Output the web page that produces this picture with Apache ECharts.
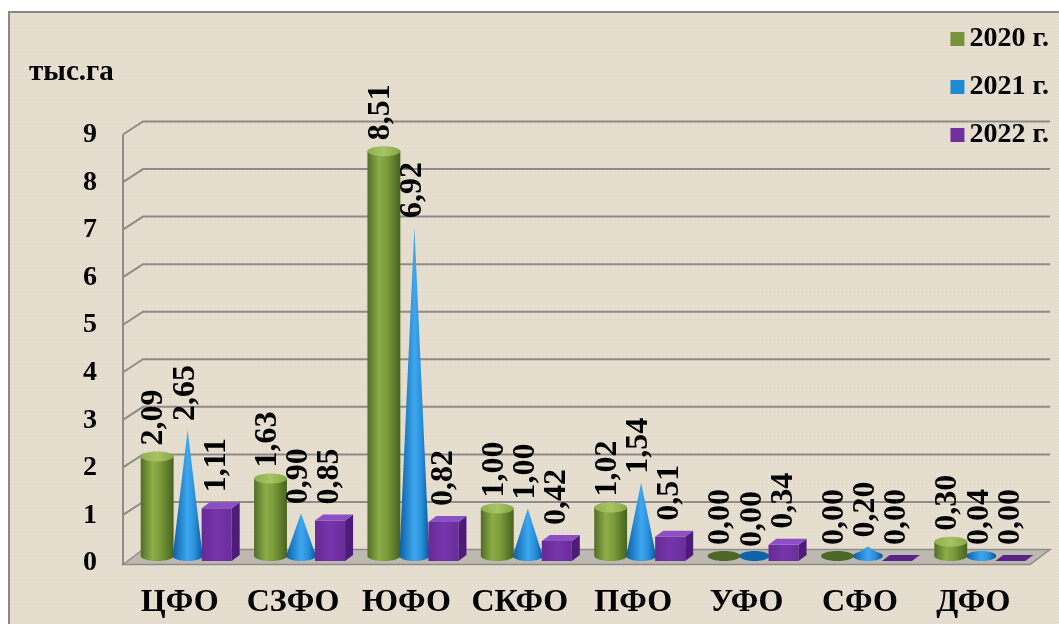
<!DOCTYPE html>
<html>
<head>
<meta charset="utf-8">
<script src="https://cdn.jsdelivr.net/npm/echarts@6/dist/echarts.min.js"></script>
<style>
  html, body { margin: 0; padding: 0; background: #fff; }
  #chart {
    position: absolute;
    left: 8px;
    top: 11px;
    width: 1049px;
    height: 611px;
    border-left: 2px solid #8a8884;
    border-top: 2px solid #8a8884;
    background-color: #e5ddce;
    background-image:
      repeating-linear-gradient(0deg, rgba(255,255,255,0.10) 0 1px, transparent 1px 3px),
      repeating-linear-gradient(90deg, rgba(120,100,70,0.035) 0 1px, transparent 1px 4px);
  }
</style>
</head>
<body>
<div id="chart"></div>
<script>
const categories = ['ЦФО', 'СЗФО', 'ЮФО', 'СКФО', 'ПФО', 'УФО', 'СФО', 'ДФО']
const years = ['2020 г.', '2021 г.', '2022 г.']
const values2020 = [2.09, 1.63, 8.51, 1.00, 1.02, 0.00, 0.00, 0.30]
const values2021 = [2.65, 0.90, 6.92, 1.00, 1.54, 0.00, 0.20, 0.04]
const values2022 = [1.11, 0.85, 0.82, 0.42, 0.51, 0.34, 0.00, 0.00]
const yTicks = [0, 1, 2, 3, 4, 5, 6, 7, 8, 9]

const serif = '"Liberation Serif", "Times New Roman", serif'
const DX = 10
const DY = 6.5

const chart = echarts.init(document.getElementById('chart'))

function fmt(v) {
  return v.toFixed(2).replace('.', ',')
}

function label(x, y, v) {
  return {
    type: 'text',
    x: x,
    y: y,
    rotation: Math.PI / 2,
    style: {
      text: fmt(v),
      fill: '#000',
      fontSize: 32,
      fontWeight: 'bold',
      fontFamily: serif,
      align: 'left',
      verticalAlign: 'middle'
    },
    z2: 10
  }
}

function hGrad(stops) {
  return new echarts.graphic.LinearGradient(0, 0, 1, 0, stops.map(c => ({ offset: c[0], color: c[1] })))
}

// walls, gridlines and floor
function renderFrame(params, api) {
  const cs = params.coordSys
  const v = api.value(1)
  const y = api.coord([0, v])[1]
  const right = cs.x + cs.width
  const children = []
  if (v === 0) {
    const yTop = api.coord([0, yTicks[yTicks.length - 1]])[1]
    children.push({
      type: 'polygon',
      shape: { points: [[cs.x - DX, y + DY + 2], [cs.x + DX, y - DY], [right + DX, y - DY], [right - DX, y + DY + 2]] },
      style: { fill: '#bdb9b1', stroke: '#8e8c88', lineWidth: 1.5 }
    })
    children.push({
      type: 'line',
      shape: { x1: cs.x - DX, y1: yTop + DY, x2: cs.x - DX, y2: y + DY + 2 },
      style: { stroke: '#8e8c88', lineWidth: 2 }
    })
  } else {
    children.push({
      type: 'polyline',
      shape: { points: [[cs.x - DX, y + DY], [cs.x + DX, y - DY], [right + DX, y - DY]] },
      style: { stroke: '#8e8c88', lineWidth: 2, fill: null }
    })
  }
  return { type: 'group', children: children }
}

function renderCylinder(params, api) {
  const i = api.value(0)
  const v = api.value(1)
  const band = api.size([1, 0])[0]
  const cx = api.coord([i, v])[0] - 0.287 * band
  const r = 0.145 * band
  const yB = api.coord([i, 0])[1]
  const yT = api.coord([i, v])[1]
  const ry = 5
  const children = []
  if (v > 0) {
    const grad = hGrad([[0, '#526c27'], [0.35, '#8cad47'], [0.6, '#7a9b3a'], [1, '#48621f']])
    children.push({ type: 'ellipse', shape: { cx: cx, cy: yB, rx: r, ry: ry }, style: { fill: grad } })
    children.push({ type: 'rect', shape: { x: cx - r, y: yT, width: 2 * r, height: yB - yT }, style: { fill: grad } })
    children.push({ type: 'ellipse', shape: { cx: cx, cy: yT, rx: r, ry: ry }, style: { fill: hGrad([[0, '#8fb04c'], [0.5, '#a6c463'], [1, '#86a544']]) } })
  } else {
    children.push({ type: 'ellipse', shape: { cx: cx, cy: yB, rx: r, ry: ry }, style: { fill: '#4d6726' } })
  }
  children.push(label(cx - 3, yT - 11, v))
  return { type: 'group', children: children }
}

function renderCone(params, api) {
  const i = api.value(0)
  const v = api.value(1)
  const band = api.size([1, 0])[0]
  const cx = api.coord([i, v])[0] - 0.018 * band
  const r = 0.132 * band
  const yB = api.coord([i, 0])[1]
  const yT = api.coord([i, v])[1]
  const grad = hGrad([[0, '#0b5fa5'], [0.5, '#3ea8ef'], [0.75, '#2a8dd8'], [1, '#0a5596']])
  const children = []
  children.push({ type: 'ellipse', shape: { cx: cx, cy: yB, rx: r, ry: 5 }, style: { fill: v > 0 ? grad : '#0f63aa' } })
  if (v > 0) {
    children.push({ type: 'polygon', shape: { points: [[cx - r, yB], [cx, yT], [cx + r, yB]] }, style: { fill: grad } })
  }
  children.push(label(cx - 2, yT - 9, v))
  return { type: 'group', children: children }
}

function renderBox(params, api) {
  const i = api.value(0)
  const v = api.value(1)
  const band = api.size([1, 0])[0]
  const w = 0.265 * band
  const x0 = api.coord([i, v])[0] + 0.238 * band - w / 2
  const yF = api.coord([i, 0])[1] + 5
  const yTop = api.coord([i, v])[1] + 5
  const bx = 8
  const by = 6
  const children = []
  if (v > 0) {
    children.push({
      type: 'rect',
      shape: { x: x0, y: yTop, width: w, height: yF - yTop },
      style: { fill: hGrad([[0, '#662a96'], [0.5, '#7636aa'], [1, '#6a2d9c']]) }
    })
    children.push({
      type: 'polygon',
      shape: { points: [[x0 + w, yTop], [x0 + w + bx, yTop - by], [x0 + w + bx, yF - by], [x0 + w, yF]] },
      style: { fill: '#4e1c78' }
    })
    children.push({
      type: 'polygon',
      shape: { points: [[x0, yTop], [x0 + bx, yTop - by], [x0 + w + bx, yTop - by], [x0 + w, yTop]] },
      style: { fill: '#8d4fc4' }
    })
  } else {
    children.push({
      type: 'polygon',
      shape: { points: [[x0, yF], [x0 + bx, yF - by], [x0 + w + bx, yF - by], [x0 + w, yF]] },
      style: { fill: '#5a2388' }
    })
  }
  children.push(label(x0 + w / 2, yTop - 16, v))
  return { type: 'group', children: children }
}

function toData(values) {
  return values.map((v, i) => [i, v])
}

const option = {
  animation: false,
  title: {
    text: 'тыс.га',
    left: 14,
    top: 40,
    textStyle: { fontFamily: serif, fontWeight: 'bold', fontSize: 29, color: '#000' }
  },
  legend: {
    data: years,
    orient: 'vertical',
    right: 5,
    top: 7,
    itemGap: 20,
    itemWidth: 14,
    itemHeight: 14,
    icon: 'rect',
    textStyle: { fontFamily: serif, fontWeight: 'bold', fontSize: 28, color: '#000' }
  },
  grid: { left: 123, right: 19, top: 115, bottom: 68 },
  xAxis: {
    type: 'category',
    data: categories,
    axisLine: { show: false },
    axisTick: { show: false },
    axisLabel: {
      interval: 0,
      margin: 31,
      padding: [0, 20, 0, 0],
      fontFamily: serif,
      fontWeight: 'bold',
      fontSize: 32,
      color: '#000'
    }
  },
  yAxis: {
    type: 'value',
    min: 0,
    max: 9,
    interval: 1,
    splitLine: { show: false },
    axisLine: { show: false },
    axisTick: { show: false },
    axisLabel: {
      margin: 36,
      verticalAlign: 'top',
      lineHeight: 14,
      fontFamily: serif,
      fontWeight: 'bold',
      fontSize: 28,
      color: '#000'
    }
  },
  series: [
    {
      name: 'frame',
      type: 'custom',
      renderItem: renderFrame,
      data: yTicks.map(t => [0, t]),
      encode: { x: 0, y: 1 },
      clip: false,
      silent: true,
      z: 1
    },
    {
      name: years[0],
      type: 'custom',
      renderItem: renderCylinder,
      data: toData(values2020),
      encode: { x: 0, y: 1 },
      itemStyle: { color: '#77933c' },
      clip: false,
      z: 3
    },
    {
      name: years[1],
      type: 'custom',
      renderItem: renderCone,
      data: toData(values2021),
      encode: { x: 0, y: 1 },
      itemStyle: { color: '#1f8ad4' },
      clip: false,
      z: 3
    },
    {
      name: years[2],
      type: 'custom',
      renderItem: renderBox,
      data: toData(values2022),
      encode: { x: 0, y: 1 },
      itemStyle: { color: '#7030a0' },
      clip: false,
      z: 3
    }
  ]
}

chart.setOption(option)
</script>
</body>
</html>
